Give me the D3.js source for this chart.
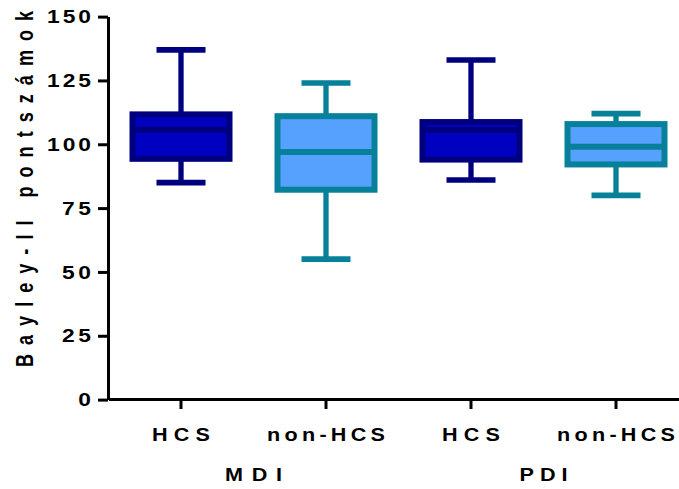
<!DOCTYPE html>
<html lang="hu">
<head>
<meta charset="UTF-8">
<title>Bayley-II</title>
<style>
  body { margin: 0; background: #fff; }
  text { font-family: "Liberation Sans", Arial, sans-serif; font-weight: bold; fill: #000; }
</style>
</head>
<body>
<svg id="chart" width="679" height="489"></svg>
<script src="https://cdn.jsdelivr.net/npm/d3@7"></script>
<script>
// data
let groups = ["MDI", "MDI", "PDI", "PDI"]
let categories = ["HCS", "non-HCS", "HCS", "non-HCS"]
let whiskerLow = [85, 55, 86, 80]
let q1 = [94.3, 82.2, 94, 92.1]
let median = [105.7, 97, 105.6, 99]
let q3 = [111.7, 111, 108.7, 107.9]
let whiskerHigh = [137, 124, 133, 112]
let yTicks = [0, 25, 50, 75, 100, 125, 150]

let boxes = categories.map((c, i) => ({
  key: i, group: groups[i], cat: c,
  lo: whiskerLow[i], q1: q1[i], med: median[i], q3: q3[i], hi: whiskerHigh[i]
}))

let strokeCol = { "HCS": "#00007f", "non-HCS": "#07809a" }
let fillCol = { "HCS": "#0000c0", "non-HCS": "#55a1fd" }

let svg = d3.select("#chart")
let x = d3.scaleBand().domain(boxes.map(d => d.key)).range([108.5, 688.5])
let y = d3.scaleLinear().domain([0, 150]).range([399.6, 16.6])

let boxW = 97, capW = 49
let stretch = 1.2   // labels in the picture are a bit wider than tall

// boxes
let g = svg.append("g")
let cell = g.selectAll("g").data(boxes).enter().append("g")
  .attr("transform", d => `translate(${x(d.key) + x.bandwidth() / 2},0)`)

cell.append("line")
  .attr("y1", d => y(d.hi)).attr("y2", d => y(d.lo))
  .attr("stroke", d => strokeCol[d.cat]).attr("stroke-width", 5.3)
cell.append("line").attr("class", "cap")
  .attr("x1", -capW / 2).attr("x2", capW / 2)
  .attr("y1", d => y(d.hi)).attr("y2", d => y(d.hi))
  .attr("stroke", d => strokeCol[d.cat]).attr("stroke-width", 5.7)
cell.append("line").attr("class", "cap")
  .attr("x1", -capW / 2).attr("x2", capW / 2)
  .attr("y1", d => y(d.lo)).attr("y2", d => y(d.lo))
  .attr("stroke", d => strokeCol[d.cat]).attr("stroke-width", 5.7)
cell.append("rect")
  .attr("x", -boxW / 2).attr("width", boxW)
  .attr("y", d => y(d.q3)).attr("height", d => y(d.q1) - y(d.q3))
  .attr("fill", d => fillCol[d.cat])
  .attr("stroke", d => strokeCol[d.cat]).attr("stroke-width", 6)
cell.append("line")
  .attr("x1", -boxW / 2).attr("x2", boxW / 2)
  .attr("y1", d => y(d.med)).attr("y2", d => y(d.med))
  .attr("stroke", d => strokeCol[d.cat]).attr("stroke-width", 6)

// y axis
let yAxis = svg.append("g").attr("transform", "translate(108,0)")
  .call(d3.axisLeft(y).tickValues(yTicks).tickSize(10).tickSizeOuter(0))
yAxis.select(".domain").attr("stroke-width", 3)
yAxis.selectAll(".tick line").attr("stroke-width", 3)
yAxis.selectAll(".tick text")
  .attr("font-size", 19).attr("font-family", null).attr("fill", "#000")
  .attr("x", 0).attr("transform", `translate(-17,0) scale(${stretch},1)`)
  .attr("textLength", d => (String(d).length * 15 - 1) / stretch).attr("lengthAdjust", "spacing")

// x axis (line runs past the plot to the right edge)
let xAxis = svg.append("g").attr("transform", "translate(0,399)")
  .call(d3.axisBottom(x).tickSize(10).tickSizeOuter(0).tickFormat(() => ""))
xAxis.select(".domain").attr("stroke-width", 3)
xAxis.selectAll(".tick line").attr("stroke-width", 3)

let tickLen = { "HCS": 58, "non-HCS": 118 }
svg.append("g").selectAll("text").data(boxes).enter().append("text")
  .attr("transform", d => `translate(${x(d.key) + x.bandwidth() / 2},441) scale(${stretch},1)`)
  .attr("text-anchor", "middle").attr("font-size", 18)
  .attr("textLength", d => tickLen[d.cat] / stretch).attr("lengthAdjust", "spacing")
  .text(d => d.cat)

let groupNames = Array.from(new Set(groups))
let groupLen = { "MDI": 57, "PDI": 48 }
svg.append("g").selectAll("text").data(groupNames).enter().append("text")
  .attr("transform", gn => {
    let ks = boxes.filter(b => b.group === gn).map(b => x(b.key) + x.bandwidth() / 2)
    return `translate(${d3.mean(ks)},481) scale(${stretch},1)`
  })
  .attr("text-anchor", "middle").attr("font-size", 18)
  .attr("textLength", gn => groupLen[gn] / stretch).attr("lengthAdjust", "spacing")
  .text(gn => gn)

// y title, glyphs widened across like the other labels
svg.append("text")
  .attr("transform", "translate(33,189) scale(1.3,1) rotate(-90)")
  .attr("text-anchor", "middle").attr("font-size", 18)
  .attr("textLength", 356).attr("lengthAdjust", "spacing")
  .text("Bayley-II pontszámok")
</script>
</body>
</html>
